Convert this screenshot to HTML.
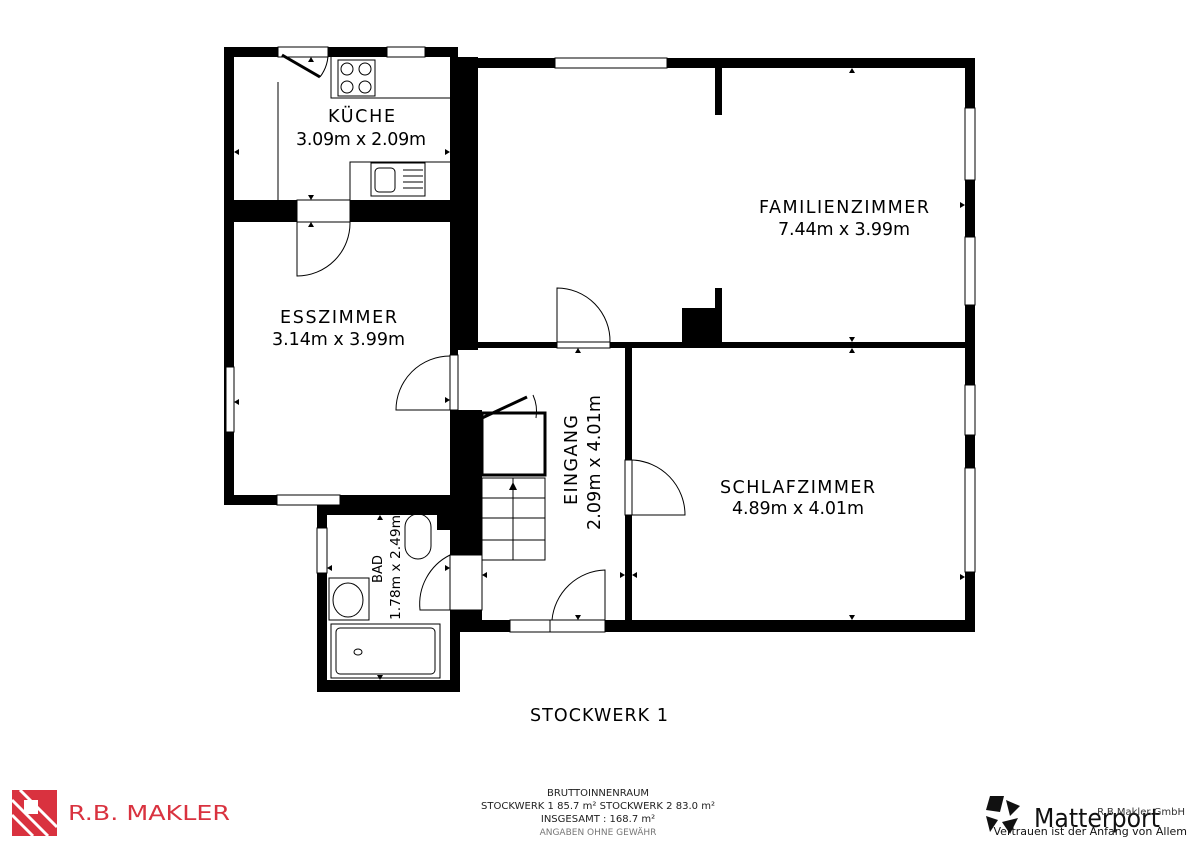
<!DOCTYPE html>
<html><head><meta charset="utf-8"><style>
body{margin:0;background:#fff;width:1200px;height:848px;overflow:hidden;font-family:"Liberation Sans","DejaVu Sans",sans-serif}
svg text{font-family:"DejaVu Sans","Liberation Sans",sans-serif}
</style></head><body>
<svg width="1200" height="848" viewBox="0 0 1200 848" xmlns="http://www.w3.org/2000/svg">
<g fill="#000">
<rect x="224" y="47" width="234" height="10"/>
<rect x="224" y="47" width="10" height="458"/>
<rect x="450" y="47" width="8" height="320"/>
<rect x="457" y="57" width="21" height="293"/>
<rect x="224" y="200" width="234" height="22"/>
<rect x="457" y="58" width="518" height="10"/>
<rect x="965" y="58" width="10" height="574"/>
<rect x="470" y="342" width="505" height="6"/>
<rect x="715" y="68" width="7" height="47"/>
<rect x="715" y="288" width="7" height="54"/>
<rect x="682" y="308" width="40" height="34"/>
<rect x="224" y="495" width="234" height="10"/>
<rect x="450" y="350" width="8" height="160"/>
<rect x="625" y="348" width="7" height="284"/>
<rect x="480" y="620" width="495" height="12"/>
<rect x="450" y="410" width="32" height="145"/>
<rect x="450" y="610" width="32" height="22"/>
<rect x="317" y="505" width="143" height="10"/>
<rect x="317" y="505" width="10" height="187"/>
<rect x="317" y="680" width="143" height="12"/>
<rect x="450" y="610" width="10" height="82"/>
<rect x="437" y="505" width="20" height="25"/>
</g>
<g fill="#fff" stroke="#000" stroke-width="1">
<rect x="387" y="47" width="38" height="10"/>
<rect x="278" y="47" width="50" height="10"/>
<rect x="555" y="58" width="112" height="10"/>
<rect x="965" y="108" width="10" height="72"/>
<rect x="965" y="237" width="10" height="68"/>
<rect x="965" y="385" width="10" height="50"/>
<rect x="965" y="468" width="10" height="104"/>
<rect x="297" y="200" width="53" height="22"/>
<rect x="557" y="342" width="53" height="6"/>
<rect x="226" y="367" width="8" height="65"/>
<rect x="277" y="495" width="63" height="10"/>
<rect x="450" y="355" width="8" height="55"/>
<rect x="625" y="460" width="7" height="55"/>
<rect x="510" y="620" width="40" height="12"/>
<rect x="550" y="620" width="55" height="12"/>
<rect x="317" y="528" width="10" height="45"/>
<rect x="450" y="555" width="32" height="55"/>
</g>
<g fill="none" stroke="#000" stroke-width="1">
<path d="M297 222 V276 A53 53 0 0 0 350 222"/>
<path d="M557 342 V288 A53 53 0 0 1 610 342"/>
<path d="M450 410 H396 A54 54 0 0 1 450 356"/>
<path d="M632 515 H685 A55 55 0 0 0 632 460"/>
<path d="M605 620 V570 A55 55 0 0 0 552 620"/>
<path d="M450 555 A55 55 0 0 0 420 610 H450"/>
<path d="M328 50 A40 40 0 0 1 320 77"/>
<line x1="278" y1="82" x2="278" y2="200"/>
<path d="M331 57 V98 H450"/>
<path d="M350 200 V162 H450"/>
<rect x="338" y="60" width="37" height="36"/>
<circle cx="347" cy="69" r="6"/><circle cx="365" cy="69" r="6"/>
<circle cx="347" cy="87" r="6"/><circle cx="365" cy="87" r="6"/>
<rect x="371" y="163" width="54" height="33"/>
<rect x="375" y="168" width="20" height="24" rx="4"/>
<path d="M403 170h20M403 176h20M403 182h20M403 188h20"/>
<rect x="482" y="478" width="63" height="82"/>
<path d="M482 498h63M482 518h63M482 540h63M513 478v82"/>
<path d="M533 395 A40 40 0 0 1 536 418"/>
<rect x="405" y="514" width="26" height="45" rx="13"/>
<rect x="329" y="578" width="40" height="42"/>
<ellipse cx="348" cy="600" rx="15" ry="17"/>
<rect x="331" y="624" width="109" height="54"/>
<rect x="336" y="628" width="99" height="46" rx="4"/>
</g>
<rect x="482" y="413" width="63" height="62" fill="none" stroke="#000" stroke-width="3"/>
<line x1="482" y1="418" x2="527" y2="397" stroke="#000" stroke-width="3"/>
<line x1="282" y1="55" x2="320" y2="77" stroke="#000" stroke-width="3"/>
<ellipse cx="358" cy="652" rx="4" ry="3" fill="none" stroke="#000"/>
<polygon points="513,482 509,490 517,490" fill="#000"/>
<line x1="513" y1="490" x2="513" y2="478" stroke="#000"/>
<g fill="#000">
<polygon points="852,68 849,73 855,73"/><polygon points="852,342 849,337 855,337"/><polygon points="852,348 849,353 855,353"/>
<polygon points="852,620 849,615 855,615"/><polygon points="578,348 575,353 581,353"/><polygon points="578,620 575,615 581,615"/>
<polygon points="965,205 960,202 960,208"/><polygon points="965,577 960,574 960,580"/>
<polygon points="234,152 239,149 239,155"/><polygon points="450,152 445,149 445,155"/>
<polygon points="234,402 239,399 239,405"/><polygon points="625,575 620,572 620,578"/><polygon points="632,575 637,572 637,578"/>
<polygon points="311,200 308,195 314,195"/><polygon points="311,222 308,227 314,227"/>
<polygon points="380,515 377,520 383,520"/><polygon points="380,680 377,675 383,675"/>
<polygon points="327,568 332,565 332,571"/><polygon points="482,575 487,572 487,578"/><polygon points="450,568 445,565 445,571"/>
<polygon points="450,400 445,397 445,403"/><polygon points="311,57 308,62 314,62"/>
</g>
<g font-size="17.5" fill="#000" lengthAdjust="spacingAndGlyphs">
<text x="328" y="122" textLength="67">KÜCHE</text>
<text x="296" y="145" textLength="130">3.09m x 2.09m</text>
<text x="759" y="213" textLength="170">FAMILIENZIMMER</text>
<text x="778" y="235" textLength="132">7.44m x 3.99m</text>
<text x="280" y="323" textLength="117">ESSZIMMER</text>
<text x="272" y="345" textLength="133">3.14m x 3.99m</text>
<text x="720" y="493" textLength="155">SCHLAFZIMMER</text>
<text x="732" y="514" textLength="132">4.89m x 4.01m</text>
<text transform="translate(577,505) rotate(-90)" textLength="90">EINGANG</text>
<text transform="translate(600,530) rotate(-90)" textLength="135">2.09m x 4.01m</text>
<text x="530" y="721" textLength="138">STOCKWERK 1</text>
</g>
<g font-size="13">
<text transform="translate(382,583) rotate(-90)" textLength="28" lengthAdjust="spacingAndGlyphs">BAD</text>
<text transform="translate(400,620) rotate(-90)" textLength="105" lengthAdjust="spacingAndGlyphs">1.78m x 2.49m</text>
</g>
<g text-anchor="middle" fill="#222" font-size="10">
<text x="598" y="796">BRUTTOINNENRAUM</text>
<text x="598" y="809" textLength="234" lengthAdjust="spacingAndGlyphs">STOCKWERK 1 85.7 m²   STOCKWERK 2 83.0 m²</text>
<text x="598" y="822">INSGESAMT :  168.7 m²</text>
<text x="598" y="835" fill="#777" font-size="9">ANGABEN OHNE GEWÄHR</text>
</g>
<g>
<polygon points="12,790 57,790 57,836 12,836" fill="#d9323f"/>
<path d="M12 800 L48 836 M12 815 L33 836 M20 790 L57 827" stroke="#fff" stroke-width="3"/>
<rect x="24" y="800" width="14" height="14" fill="#fff"/>
<text x="68" y="820" font-size="20" fill="#d9323f" textLength="162" lengthAdjust="spacingAndGlyphs">R.B. MAKLER</text>
</g>
<g>
<polygon points="990,796 1004,796 1000,812 986,810" fill="#111"/>
<polygon points="1006,800 1020,806 1010,816" fill="#111"/>
<polygon points="986,816 998,820 990,832" fill="#111"/>
<polygon points="1002,822 1018,818 1010,834" fill="#111"/>
<text x="1034" y="827" font-size="26" font-family="Liberation Serif" fill="#111" textLength="126" lengthAdjust="spacingAndGlyphs">Matterport</text>
<text x="1185" y="815" font-size="10" text-anchor="end" fill="#333">R.B.Makler GmbH</text>
<text x="1187" y="835" font-size="11" text-anchor="end" fill="#111">Vertrauen ist der Anfang von Allem</text>
</g>
</svg>
</body></html>
